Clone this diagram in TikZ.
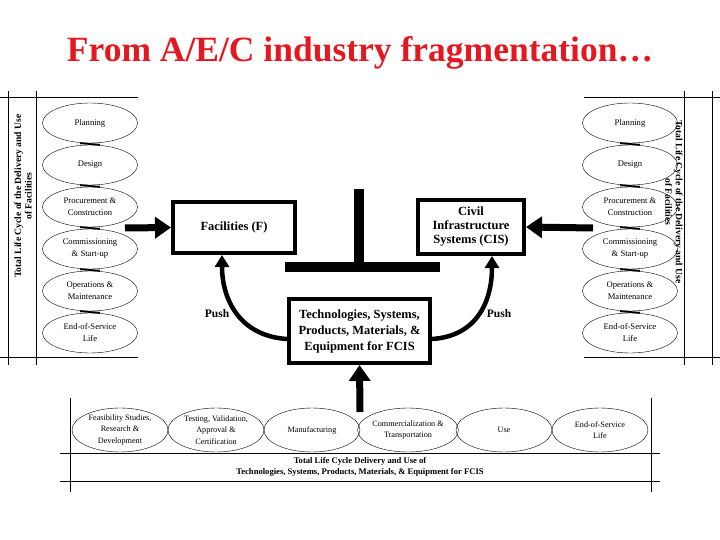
\documentclass[tikz,border=0pt]{standalone}
\usepackage{fontspec}
\setmainfont{Liberation Serif}
\usetikzlibrary{shapes.geometric,arrows.meta,calc}
\definecolor{titlered}{RGB}{228,24,32}
\begin{document}
\begin{tikzpicture}[x=1pt,y=-1pt,
  stage/.style={draw,ellipse,minimum width=95pt,minimum height=40pt,inner sep=0pt,align=center,font=\fontsize{8.6}{12}\selectfont},
  bstage/.style={stage,minimum width=96pt,minimum height=44pt,font=\fontsize{8.2}{11.5}\selectfont},
  mainbox/.style={draw,line width=4pt,align=center,font=\bfseries\fontsize{12.5}{14}\selectfont,inner sep=2pt},
  neck/.style={line width=1.8pt},
  frame/.style={line width=0.8pt},
  bigarrow/.style={line width=7pt,-{Triangle[width=21pt,length=16pt]}},
  pusharrow/.style={line width=4.5pt,-{Triangle[width=14pt,length=12pt]}},
  sidetext/.style={align=center,font=\bfseries\fontsize{9.6}{10.5}\selectfont,inner sep=0pt},
  pushlabel/.style={font=\bfseries\fontsize{11.5}{13}\selectfont},
]
\useasboundingbox (0,0) rectangle (720,540);
\fill[white] (0,0) rectangle (720,540);

% title
\node[text=titlered,font=\bfseries\fontsize{35.5}{42}\selectfont] (title) at (360,53) {From A/E/C industry fragmentation\ldots};

% ---------- left frame ----------
\draw[frame] (0,97) -- (138,97);
\draw[frame] (0,357) -- (138,357);
\draw[frame] (8,91) -- (8,365);
\draw[frame] (36,91) -- (36,365);
\node[sidetext,rotate=90] (ltext) at (23,196) {Total Life Cycle of the Delivery and Use\\of Facilities};

% ---------- right frame ----------
\draw[frame] (584,97) -- (720,97);
\draw[frame] (584,357) -- (720,357);
\draw[frame] (684,91) -- (684,365);
\draw[frame] (712,91) -- (712,365);
\node[sidetext,rotate=-90] (rtext) at (674,202) {Total Life Cycle of the Delivery and Use\\of Facilities};

% ---------- side stages ----------
\foreach \side/\cx in {L/90,R/630}{
  \node[stage] (\side1) at (\cx,123) {Planning};
  \node[stage] (\side2) at (\cx,165) {Design};
  \node[stage] (\side3) at (\cx,207) {Procurement \&\\Construction};
  \node[stage] (\side4) at (\cx,249) {Commissioning\\\& Start-up};
  \node[stage] (\side5) at (\cx,291) {Operations \&\\Maintenance};
  \node[stage] (\side6) at (\cx,333) {End-of-Service\\Life};
  \foreach \a/\b in {1/2,2/3,3/4,4/5,5/6}{
    \draw[neck] ($(\side\a.south)+(-10,0)$) -- ($(\side\b.north)+(10,0)$);
  }
}

% ---------- central boxes ----------
\node[mainbox,minimum width=122pt,minimum height=51pt] (fac) at (234,227.5) {Facilities (F)};
\node[mainbox,minimum width=106pt,minimum height=54pt] (cis) at (471,227) {Civil\\Infrastructure\\Systems (CIS)};
\node[mainbox,minimum width=141pt,minimum height=64pt,font=\bfseries\fontsize{12.5}{16}\selectfont] (tech) at (359.5,331) {Technologies, Systems,\\Products, Materials, \&\\Equipment for FCIS};

% T divider
\fill (354,189) rectangle (364,266);
\fill (285,262) rectangle (440,272);

% stage arrows into the boxes
\coordinate (la) at (125,228);
\coordinate (ra) at (593,228);
\draw[bigarrow] (la) -- (fac.west);
\draw[bigarrow] (ra) -- (cis.east);

% push arrows
\coordinate (tl) at ($(tech.west)+(0,8)$);
\coordinate (tr) at ($(tech.east)+(0,8)$);
\coordinate (ft) at ($(fac.south)+(-12,0)$);
\coordinate (ct) at ($(cis.south)+(21,0)$);
\draw[pusharrow] (tl) .. controls (240,336) and (222,300) .. (ft);
\draw[pusharrow] (tr) .. controls (478,336) and (492,300) .. (ct);
\node[pushlabel] (push1) at (217,314) {Push};
\node[pushlabel] (push2) at (499,314) {Push};

% ---------- bottom section ----------
\draw[frame] (60,453) -- (660,453);
\draw[frame] (60,481) -- (660,481);
\draw[frame] (70,398) -- (70,492);
\draw[frame] (651,398) -- (651,492);

\node[bstage] (B1) at (120,430) {Feasibility Studies,\\Research \&\\Development};
\node[bstage] (B2) at (216,430) {Testing, Validation,\\Approval \&\\Certification};
\node[bstage] (B3) at (312,430) {Manufacturing};
\node[bstage] (B4) at (408,430) {Commercialization \&\\Transportation};
\node[bstage] (B5) at (504,430) {Use};
\node[bstage] (B6) at (600,430) {End-of-Service\\Life};

\coordinate (ba) at (360,412);
\draw[bigarrow] (ba) -- (tech.south);

\node[sidetext,font=\bfseries\fontsize{8.6}{10.5}\selectfont] (btext) at (360,467) {Total Life Cycle Delivery and Use of\\Technologies, Systems, Products, Materials, \& Equipment for FCIS};
\end{tikzpicture}
\end{document}
